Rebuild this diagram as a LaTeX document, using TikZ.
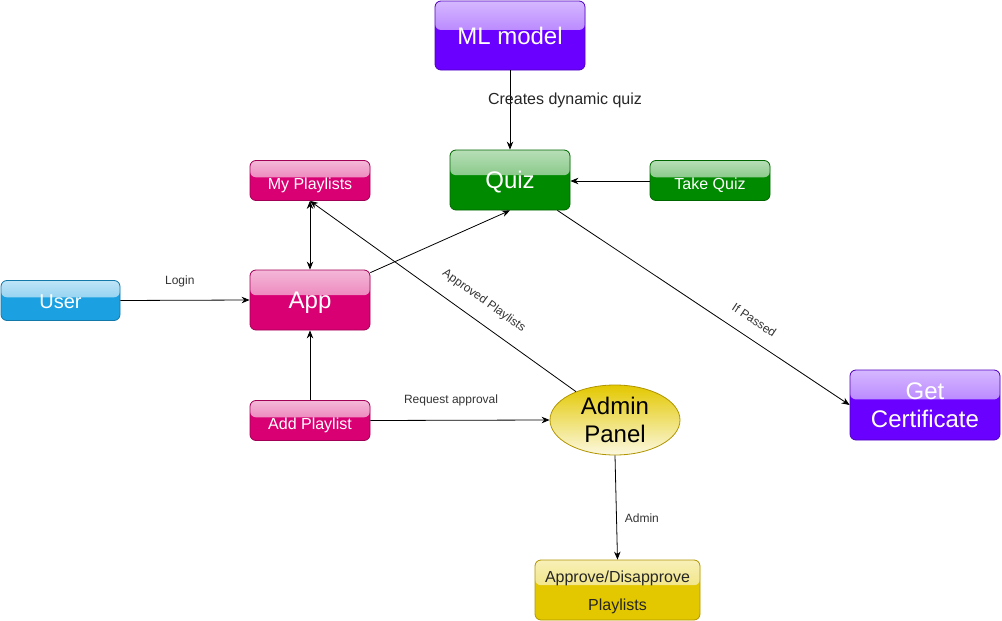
\documentclass[tikz,border=0pt]{standalone}
\usepackage{fontspec}
\setmainfont{Liberation Sans}
\usetikzlibrary{arrows.meta,calc,shapes.geometric}
\definecolor{cpurple}{HTML}{6A00FF}
\definecolor{cgreen}{HTML}{008A00}
\definecolor{cpink}{HTML}{D80073}
\definecolor{cblue}{HTML}{1BA1E2}
\definecolor{cyellow}{HTML}{E3C800}
\definecolor{cyellowdk}{HTML}{B09500}
\tikzset{
  glossy/.style={rectangle, rounded corners=6pt, fill=#1, draw=#1!75!black,
    text=white, inner sep=0pt, line width=0.8pt,
    path picture={\shade[top color=white!72!#1, bottom color=white!30!#1]
      (path picture bounding box.north west) rectangle
      ($(path picture bounding box.north east)!0.42!(path picture bounding box.south east)$);}},
  big/.style={font=\fontsize{24}{28}\selectfont, align=center},
  bigone/.style={font=\fontsize{24}{28}\selectfont, text height=17pt, text depth=0pt},
  small/.style={font=\fontsize{16}{20}\selectfont, text height=18pt, text depth=0pt},
  lbl/.style={font=\fontsize{12}{14}\selectfont, text=black!80, inner sep=0pt},
  conn/.style={line width=0.8pt, -{Stealth[length=8pt,width=6.5pt]}},
}
\begin{document}
\begin{tikzpicture}[x=1pt,y=-1pt]
\useasboundingbox (0,0) rectangle (1002,621);
% nodes
\node[glossy=cpurple, bigone, minimum width=150, minimum height=69] (ml) at (510,35.5) {ML model};
\node[glossy=cgreen, bigone, minimum width=120, minimum height=60] (quiz) at (510,180) {Quiz};
\node[glossy=cgreen, small, minimum width=120, minimum height=40] (take) at (710,180.5) {Take Quiz};
\node[glossy=cpink, small, minimum width=120, minimum height=40] (mypl) at (310,180.5) {My Playlists};
\node[glossy=cpink, bigone, minimum width=120, minimum height=60] (app) at (310,300) {App};
\node[glossy=cblue, font=\fontsize{20}{24}\selectfont, text height=15pt, text depth=0pt, minimum width=119, minimum height=40] (user) at (60.5,300.5) {User};
\node[glossy=cpink, small, minimum width=120, minimum height=40] (addpl) at (310,420.5) {Add Playlist};
\node[ellipse, top color=cyellow, bottom color=cyellow!12!white, draw=cyellowdk, line width=0.8pt,
      minimum width=130, minimum height=70, inner sep=0pt, big, text=black] (admin) at (615,420) {Admin\\Panel};
\node[glossy=cyellow, draw=cyellowdk, text=black!85, font=\fontsize{16}{28}\selectfont, align=center,
      minimum width=165, minimum height=60] (approve) at (617.5,590) {\rule{0pt}{16pt}Approve/Disapprove\\Playlists};
\node[glossy=cpurple, big, minimum width=150, minimum height=70] (cert) at (925,405) {Get\\Certificate};
% connectors
\draw[conn] (ml.south) -- node[pos=0.375, xshift=55pt, font=\fontsize{16}{18}\selectfont, text=black!85] {Creates dynamic quiz} (quiz.north);
\draw[conn] (take.west |- 0,181) -- (quiz.east |- 0,181);
\draw[line width=0.8pt, {Stealth[length=8pt,width=6.5pt]}-{Stealth[length=8pt,width=6.5pt]}] (mypl.south) -- (app.north);
\draw[conn] (user.east) -- node[lbl, pos=0.46, above=13pt] {Login} (app.west);
\draw[conn] (addpl.east) -- node[lbl, pos=0.45, above=14pt] {Request approval} (admin.west);
\draw[conn] (addpl.north) -- (app.south);
\draw[conn] ([yshift=-3pt]app.north east) -- (quiz.south);
\draw[conn] (admin.144) -- node[lbl, pos=0.39, sloped, above=14pt] {Approved Playlists} (mypl.south);
\draw[conn] ([xshift=-13pt]quiz.south east) -- node[lbl, pos=0.64, sloped, above=13pt] {If Passed} (cert.west);
\draw[conn] (admin.south) -- node[lbl, pos=0.6, right=8pt] {Admin} (approve.north);
\end{tikzpicture}
\end{document}
